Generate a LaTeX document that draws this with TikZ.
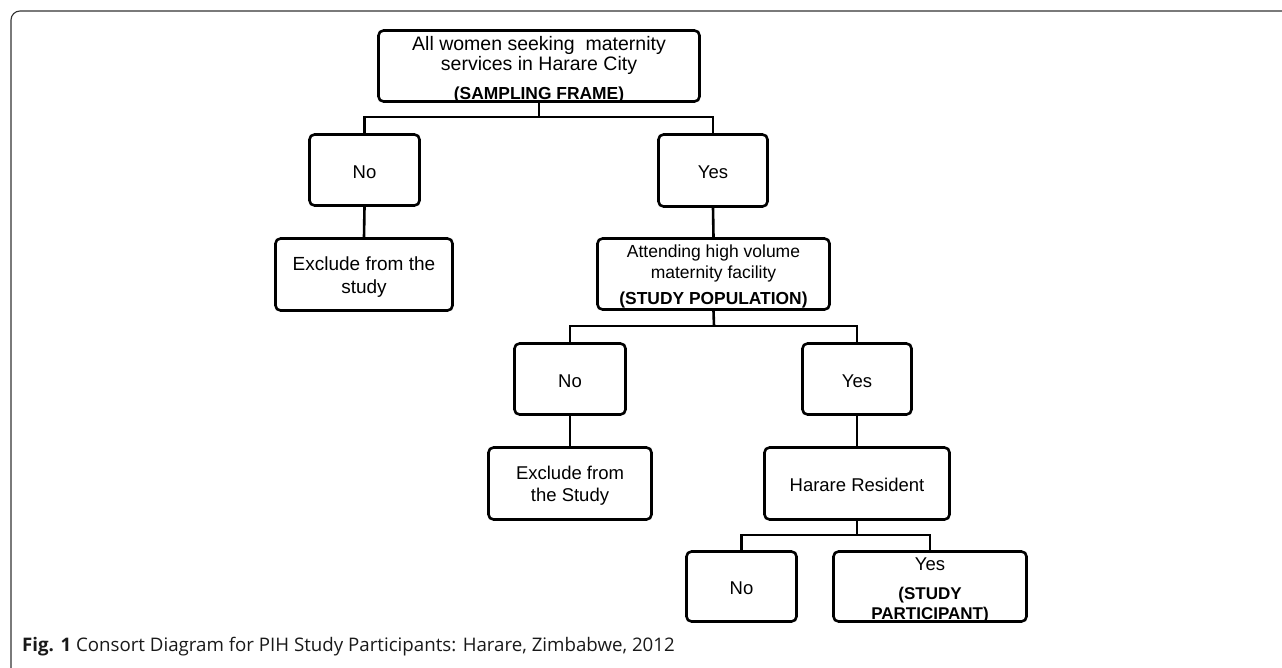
\documentclass[tikz,border=0pt]{standalone}
\usepackage{fontspec}
\setmainfont{Liberation Sans}
\newfontfamily\capfont{Open Sans}
\begin{document}
\begin{tikzpicture}[x=1pt,y=-1pt,
  box/.style={draw, line width=2.6pt, rounded corners=5pt, inner sep=0pt},
  txt/.style={align=center, inner sep=0pt, font=\fontsize{18.5}{22}\selectfont},
  conn/.style={line width=2.6pt},
  frame/.style={draw=black!80, line width=1.1pt, rounded corners=9pt}]
\useasboundingbox (0,0) rectangle (1282,667);
\clip (0,0) rectangle (1282,667);
\draw[frame] (1300,11) -- (11,11) -- (11,690);

% boxes
\node[box, minimum width=321, minimum height=71] (top) at (539,66) {};
\node[box, minimum width=110, minimum height=71] (no1) at (364.5,170) {};
\node[box, minimum width=109, minimum height=72] (yes1) at (713,170.5) {};
\node[box, minimum width=177, minimum height=72] (ex1) at (364,274.5) {};
\node[box, minimum width=232, minimum height=71] (pop) at (713.5,274) {};
\node[box, minimum width=111, minimum height=71] (no2) at (570,379) {};
\node[box, minimum width=109, minimum height=71] (yes2) at (857,379) {};
\node[box, minimum width=163, minimum height=72] (ex2) at (570,483.5) {};
\node[box, minimum width=185, minimum height=72] (har) at (857,483.5) {};
\node[box, minimum width=110, minimum height=70] (no3) at (741.5,586.5) {};
\node[box, minimum width=193, minimum height=70] (yes3) at (930,586.5) {};

% texts
\node[txt, font=\fontsize{19.5}{20}\selectfont] (topT) at (539,69.5)
  {All women seeking\ \ maternity\\ services in Harare City\\[8.5pt]
   \bfseries\fontsize{17.4}{20}\selectfont (SAMPLING FRAME)};
\node[txt] (no1T) at (364.5,172) {No};
\node[txt] (yes1T) at (713,172.5) {Yes};
\node[txt, font=\fontsize{19}{23}\selectfont] (ex1T) at (364,277.5) {Exclude from the\\ study};
\node[txt, font=\fontsize{17.5}{21}\selectfont] (popT) at (713.5,276.5)
  {Attending high volume\\ maternity facility\\[5pt]
   \bfseries\fontsize{17.4}{20}\selectfont (STUDY POPULATION)};
\node[txt] (no2T) at (570,381) {No};
\node[txt] (yes2T) at (857,381) {Yes};
\node[txt] (ex2T) at (570,486) {Exclude from\\ the Study};
\node[txt] (harT) at (857,484.5) {Harare Resident};
\node[txt] (no3T) at (741.5,588.5) {No};
\node[txt] (yes3T) at (930,590)
  {Yes\\[7pt]
   \bfseries\fontsize{17}{20}\selectfont (STUDY\\[-2pt]
   \bfseries\fontsize{17}{20}\selectfont PARTICIPANT)};

% junctions
\coordinate (j1) at (539,117);
\coordinate (j2) at (714,326);
\coordinate (j3) at (857,535);

% connectors
\draw[conn] (top.south) -- (j1);
\draw[conn] (no1.north) |- (j1) -| (yes1.north);
\draw[conn] (no1.south) -- (ex1.north);
\draw[conn] (yes1.south) -- (pop.north);
\draw[conn] (pop.south) -- (j2);
\draw[conn] (no2.north) |- (j2) -| (yes2.north);
\draw[conn] (no2.south) -- (ex2.north);
\draw[conn] (yes2.south) -- (har.north);
\draw[conn] (har.south) -- (j3);
\draw[conn] (no3.north) |- (j3) -| (yes3.north);

% caption
\node[anchor=base west, inner sep=0pt, text=black!90, font=\capfont\fontsize{18.7}{22}\selectfont] (cap) at (22,651)
  {\textbf{Fig. 1} Consort Diagram for PIH Study Participants: Harare, Zimbabwe, 2012};
\end{tikzpicture}
\end{document}
